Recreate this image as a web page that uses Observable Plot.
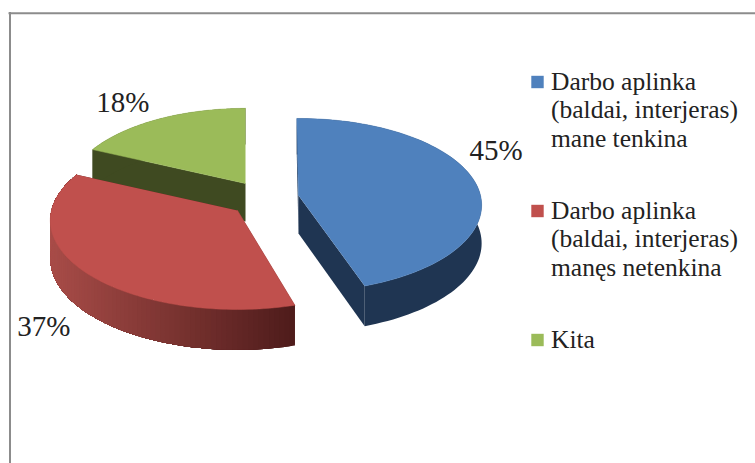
<!DOCTYPE html>
<html><head><meta charset="utf-8">
<script src="https://cdn.jsdelivr.net/npm/d3@7"></script>
<script src="https://cdn.jsdelivr.net/npm/@observablehq/plot@0.6"></script>
<style>html,body{margin:0;padding:0;background:#fff}svg{display:block}</style>
</head><body><div id="chart"></div>
<script>
const categories = ["Darbo aplinka\n(baldai, interjeras)\nmane tenkina", "Darbo aplinka\n(baldai, interjeras)\nmanęs netenkina", "Kita"];
const shares = [45, 37, 18];
const labels = ["45%", "37%", "18%"];
const topColors = ["#4f81bd", "#c0504d", "#9bbb59"];
const wallColors = ["#1f3552", "#5a2120", "#3f4a21"];

const W = 755, H = 463;
const DEG = Math.PI / 180;
const apexes = [[298, 195], [237, 210], [245, 183]];
const radiusX = [182, 186, 177];
const radiusY = [85.6, 88, 83.5];
const startTrim = [-0.6 * DEG, 2 * DEG, 0];
const endTrim = [-1 * DEG, 0, 0];
const labelNudge = [[21, -32], [-43, 53], [-36, -16]];
const P = 0.111, D = 38;
const FONT = "Liberation Serif, Cambria, serif";
const LEGEND_SIZE = 25.5;

function project(k, a, r = 1, drop = 0) {
  const c = apexes[k];
  const s = 1 / (1 + P * r * Math.cos(a));
  return [c[0] + radiusX[k] * r * Math.sin(a) * s, c[1] - radiusY[k] * r * Math.cos(a) * s + drop * (s + 1) / 2];
}
const arcs = d3.pie().sort(null)(shares);
const angleSteps = (a0, a1, n) => d3.range(0, n + 1).map(i => a0 + (a1 - a0) * i / n);
const redWall = d3.interpolateRgb("#a84c48", "#4f1c1b");

const walls = [], tops = [], labelRows = [];
const push = (store, id, pts, fill) => pts.forEach(p => store.push({id, x: p[0], y: p[1], fill}));
arcs.forEach((arc, k) => {
  const a0 = arc.startAngle + startTrim[k], a1 = arc.endAngle + endTrim[k];
  const steps = angleSteps(a0, a1, 90);
  [a0, a1].forEach((a, j) => push(walls, `${k}r${j}`,
    [project(k, a, 0), project(k, a), project(k, a, 1, D), project(k, a, 0, D)], wallColors[k]));
  // outer wall: nested bands painted over each other, so a gradient has no seams
  const bandStarts = k === 1 ? d3.range(0, 90) : [0];
  bandStarts.forEach(i => {
    const rest = steps.slice(i);
    const x0 = project(k, steps[i])[0];
    const fill = k === 1 ? redWall(Math.min(1, Math.max(0, (x0 - 51) / 243))) : wallColors[k];
    push(walls, `${k}o${i}`, [...rest.map(a => project(k, a)), ...rest.slice().reverse().map(a => project(k, a, 1, D))], fill);
  });
  push(tops, `${k}t`, [project(k, 0, 0), ...steps.map(a => project(k, a))], topColors[k]);
  const m = project(k, (arc.startAngle + arc.endAngle) / 2);
  labelRows.push({text: labels[k], x: m[0] + labelNudge[k][0], y: m[1] + labelNudge[k][1]});
});

const legendRows = categories.map((text, i) => ({text, i, base: [89, 218, 347][i]}));
const slice = (rows, k) => rows.filter(d => d.id[0] === String(k));
const faceMarks = [2, 1, 0].flatMap(k => [
  Plot.line(slice(walls, k), {x: "x", y: "y", z: "id", fill: "fill", stroke: "none"}),
  Plot.line(slice(tops, k), {x: "x", y: "y", z: "id", fill: "fill", stroke: "fill", strokeWidth: 0.5, strokeLinejoin: "round"})
]);

const chart = Plot.plot({
  width: W, height: H, margin: 0,
  x: {domain: [0, W], range: [0, W], axis: null},
  y: {domain: [0, H], range: [0, H], axis: null},
  color: {type: "identity"},
  style: {background: "#fff"},
  marks: [
    Plot.ruleY([12.8], {stroke: "#8c8c8c", strokeWidth: 2, x1: 8.5, x2: W}),
    Plot.ruleX([9.5], {stroke: "#8c8c8c", strokeWidth: 2, y1: 12, y2: H}),
    ...faceMarks,
    Plot.text(labelRows, {x: "x", y: "y", text: "text", fontFamily: FONT, fontSize: 29, fill: "#222", textAnchor: "middle"}),
    Plot.dot(legendRows, {x: () => 537, y: d => d.base - 7.5, symbol: "square", r: 7, fill: d => topColors[d.i], stroke: "none"}),
    Plot.text(legendRows, {x: () => 550.5, y: d => d.base - 2 - 0.71 * LEGEND_SIZE, text: "text", fontFamily: FONT, fontSize: LEGEND_SIZE, fill: "#222", textAnchor: "start", lineAnchor: "top", lineHeight: 28.5 / LEGEND_SIZE})
  ]
});
document.getElementById("chart").append(chart);
</script></body></html>
